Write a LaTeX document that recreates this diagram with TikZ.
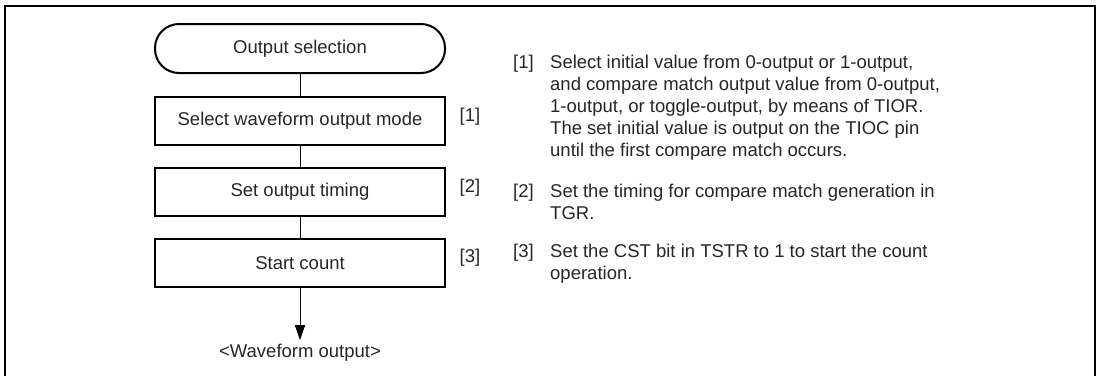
\documentclass[tikz,border=0pt]{standalone}
\usepackage{fontspec}
\setmainfont{Liberation Sans}
\usetikzlibrary{arrows.meta,positioning}

\tikzset{
  termbox/.style={draw,line width=2pt,rounded corners=24pt,minimum width=290pt,minimum height=49pt,inner sep=0pt},
  stepbox/.style={draw,line width=2pt,minimum width=290pt,minimum height=48pt,inner sep=0pt},
  link/.style={line width=1pt},
  para/.style={anchor=north west,align=left,inner sep=0pt},
  tag/.style={inner sep=0pt},
}

\begin{document}
\begin{tikzpicture}[x=1pt,y=-1pt,font=\fontsize{18.5}{22}\selectfont,text=black!85]
\useasboundingbox (0,0) rectangle (1102,376);
\draw[line width=2pt] (5,376)--(5,6)--(1095,6)--(1095,376);

% flow
\node[termbox] (start) at (300,48.5) {Output selection};
\node[stepbox] (mode) at (300,121) {Select waveform output mode};
\node[stepbox] (timing) at (300,192) {Set output timing};
\node[stepbox] (count) at (300,263) {Start count};
\node[inner sep=0pt] (wave) at (300,353) {<Waveform output>};
\draw[link] (start)--(mode);
\draw[link] (mode)--(timing);
\draw[link] (timing)--(count);
\draw[link,-{Triangle[length=15pt,width=10pt]},shorten >=4pt] (count)--(wave);

% step numbers
\node[tag] (m1) at (470,117) {[1]};
\node[tag] (m2) at (470,188) {[2]};
\node[tag] (m3) at (470,258) {[3]};

% notes
\node[para] (k1) at (513,55) {[1]};
\node[para] (p1) at (550,55) {Select initial value from 0-output or 1-output,\\
and compare match output value from 0-output,\\
1-output, or toggle-output, by means of TIOR.\\
The set initial value is output on the TIOC pin\\
until the first compare match occurs.};
\node[para] (k2) at (513,184) {[2]};
\node[para] (p2) at (550,184) {Set the timing for compare match generation in\\
TGR.};
\node[para] (k3) at (513,244) {[3]};
\node[para] (p3) at (550,244) {Set the CST bit in TSTR to 1 to start the count\\
operation.};
\end{tikzpicture}
\end{document}
